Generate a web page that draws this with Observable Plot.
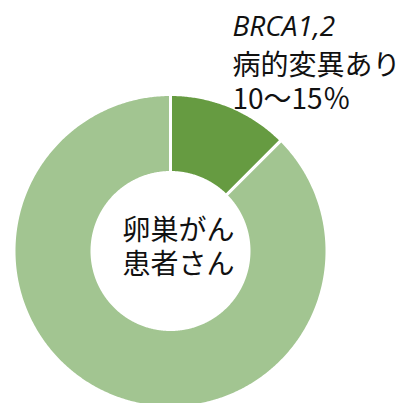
<!DOCTYPE html>
<html>
<head>
<meta charset="utf-8">
<script src="https://cdn.jsdelivr.net/npm/d3@7"></script>
<script src="https://cdn.jsdelivr.net/npm/@observablehq/plot@0.6"></script>
<style>
  html, body { margin: 0; padding: 0; background: #fff; overflow: hidden; }
  #chart svg { display: block; }
</style>
</head>
<body>
<div id="chart"></div>
<script>
// ---- data ----
const categories = ["BRCA1,2 病的変異あり", "その他"];
const values = [12.5, 87.5];
const colors = ["#669b41", "#a2c591"];
const labelTitle = ["BRCA1,2"];
const labelLines = ["病的変異あり", "10～15％"];
const centerLines = ["卵巣がん", "患者さん"];

// ---- geometry (slices computed from the data) ----
const outerR = 156.5, innerR = 78.5;
const arcs = d3.pie().sort(null).value(d => d.value)(
  categories.map((c, i) => ({ slice: c, value: values[i] }))
);
const pts = [];
for (const a of arcs) {
  const n = Math.max(2, Math.ceil((a.endAngle - a.startAngle) / (Math.PI / 360)));
  for (let k = 0; k <= n; k++) {
    const t = a.startAngle + (a.endAngle - a.startAngle) * k / n;
    pts.push({ slice: a.data.slice, x: outerR * Math.sin(t), y: outerR * Math.cos(t) });
  }
  for (let k = n; k >= 0; k--) {
    const t = a.startAngle + (a.endAngle - a.startAngle) * k / n;
    pts.push({ slice: a.data.slice, x: innerR * Math.sin(t), y: innerR * Math.cos(t) });
  }
}

const font = "'Noto Sans CJK JP', 'Noto Sans', sans-serif";

const chart = Plot.plot({
  width: 409,
  height: 403,
  margin: 0,
  x: { domain: [-170, 239], axis: null },
  y: { domain: [-152.5, 250.5], axis: null },
  color: { domain: categories, range: colors },
  style: { background: "#fff" },
  marks: [
    Plot.line(pts, {
      x: "x", y: "y", z: "slice", fill: "slice",
      stroke: "white", strokeWidth: 3, curve: "linear-closed", clip: true
    }),
    Plot.text(labelTitle, {
      text: d => d, x: 62, y: 215.5, textAnchor: "start", lineAnchor: "bottom",
      fontFamily: "'Open Sans', sans-serif", fontStyle: "italic", fontSize: 28, fill: "#111"
    }),
    Plot.text([labelLines.join("\n")], {
      text: d => d, x: 62, y: 142.5, textAnchor: "start", lineAnchor: "bottom",
      lineHeight: 1.214, fontFamily: font, fontSize: 28, fill: "#111"
    }),
    Plot.text([centerLines.join("\n")], {
      text: d => d, x: 8, y: 5, textAnchor: "middle", lineAnchor: "middle",
      lineHeight: 1.214, fontFamily: font, fontSize: 28, fill: "#111"
    })
  ]
});
document.getElementById("chart").appendChild(chart);
</script>
</body>
</html>
